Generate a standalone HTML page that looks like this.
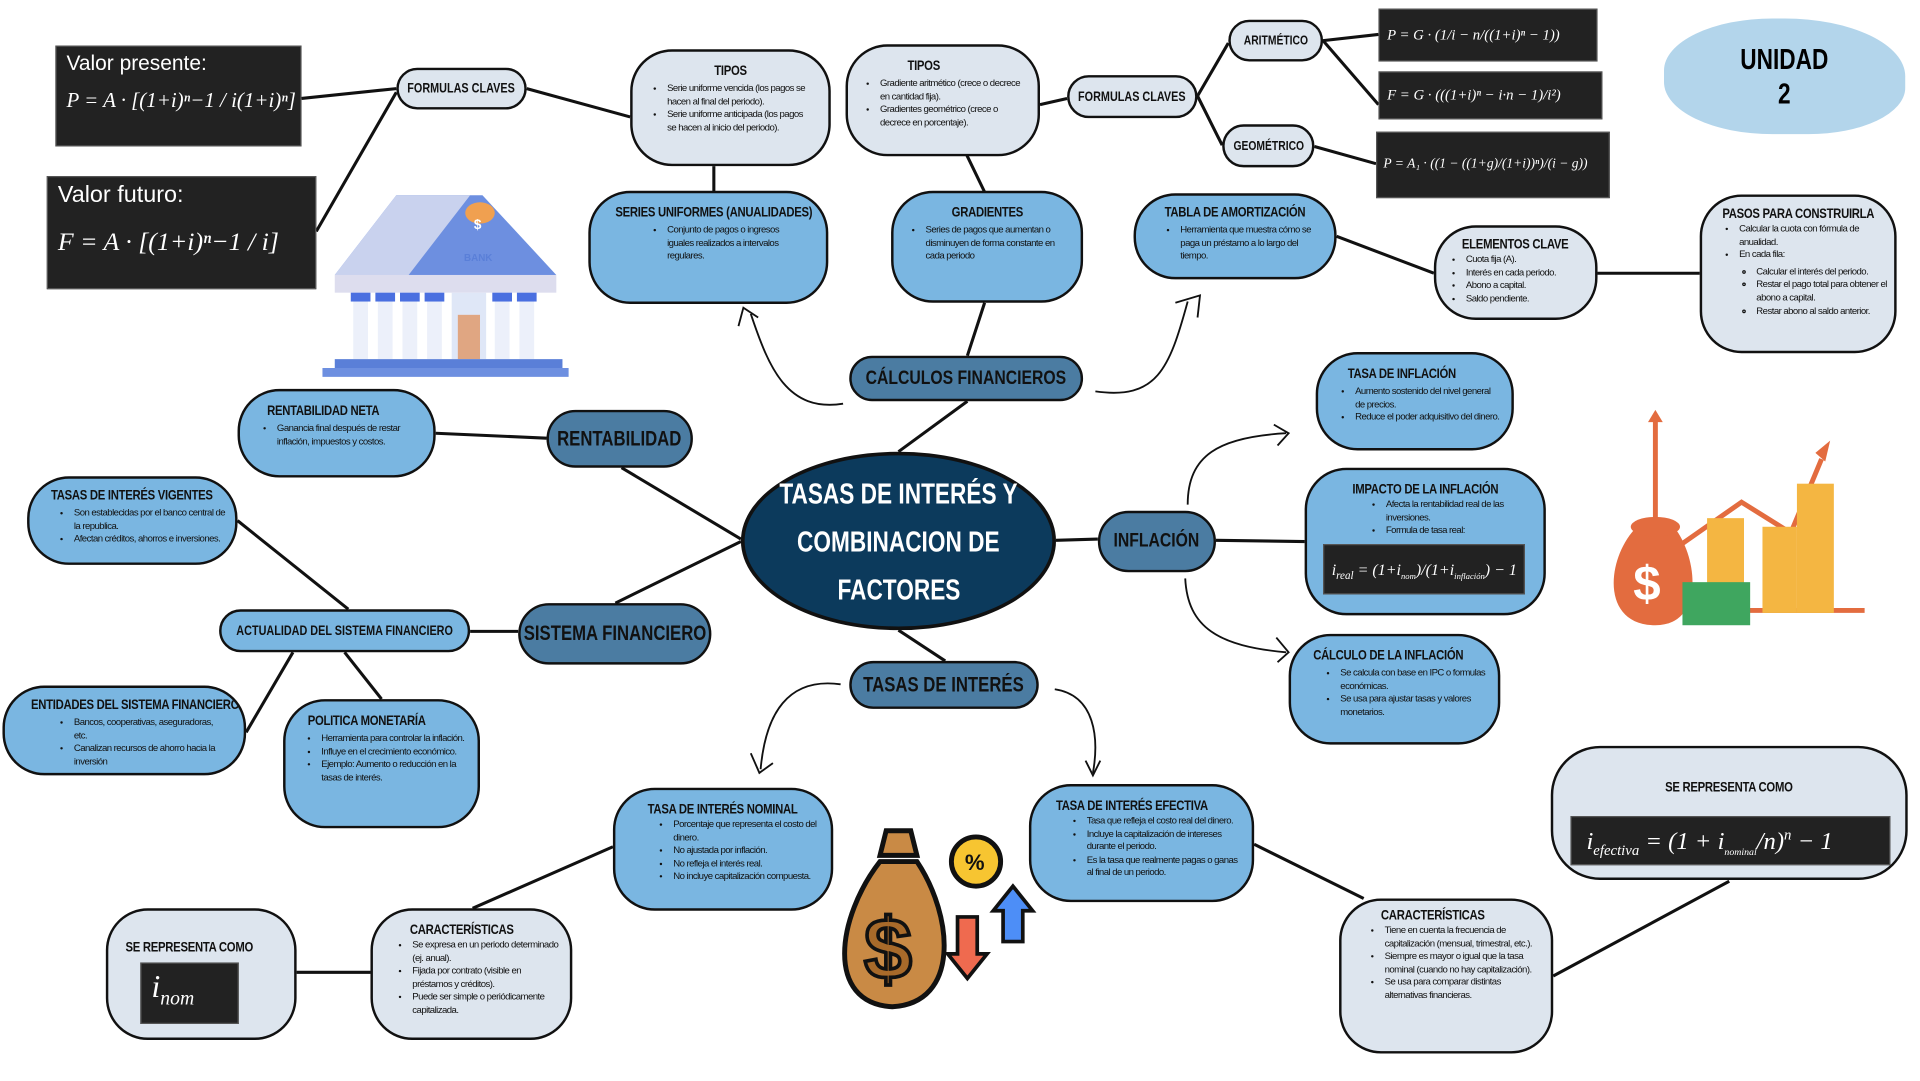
<!DOCTYPE html>
<html><head><meta charset="utf-8">
<style>
html,body{margin:0;padding:0;background:#fff;width:1920px;height:1080px;overflow:hidden}
#w{position:absolute;left:0;top:0;width:1560px;height:878px;transform:scale(1.23077);transform-origin:0 0;font-family:"Liberation Sans Narrow","Liberation Sans",sans-serif}
.n{position:absolute;box-sizing:border-box;border:2.5px solid #111;border-radius:34px;color:#111;overflow:hidden}
.l{background:#dde5ee}.m{background:#7ab6e1}.d{background:#4b7ca2}
.h{font-weight:bold;font-size:11.5px;text-align:center;margin-top:10px;white-space:nowrap;letter-spacing:-0.3px}
.h span,.s{display:inline-block;transform:scaleX(.8);transform-origin:center;white-space:nowrap}
.h.lf span{transform-origin:left}
.n ul{margin:3px 0 0 0;padding-left:26px;font-size:7.8px;line-height:10.6px;letter-spacing:-0.45px}
.n ul ul{padding-left:14px;list-style:circle}
.p{display:flex;align-items:center;justify-content:center;font-weight:bold;text-align:center;white-space:nowrap}
.f{position:absolute;background:#222;color:#fff;font-family:"Liberation Serif",serif;font-style:italic;box-sizing:border-box;border:1px solid #555;white-space:nowrap;overflow:hidden}
svg{position:absolute;left:0;top:0}
</style></head><body><div id="w">
<svg width="1560" height="878" viewBox="0 0 1560 878" fill="none" stroke="#111" stroke-width="2.5">
<line x1="245" y1="80" x2="322" y2="72"/>
<line x1="257" y1="188" x2="322" y2="75"/>
<line x1="428" y1="72" x2="512" y2="95"/>
<line x1="580" y1="135" x2="580" y2="156"/>
<line x1="785" y1="125" x2="800" y2="156"/>
<line x1="845" y1="85" x2="867" y2="80"/>
<line x1="973" y1="78" x2="998" y2="35"/>
<line x1="973" y1="78" x2="993" y2="118"/>
<line x1="1075" y1="33" x2="1120" y2="28"/>
<line x1="1075" y1="33" x2="1120" y2="85"/>
<line x1="1068" y1="119" x2="1118" y2="133"/>
<line x1="1086" y1="192" x2="1165" y2="222"/>
<line x1="1298" y1="222" x2="1381" y2="222"/>
<line x1="800" y1="246" x2="786" y2="289"/>
<line x1="786" y1="326" x2="730" y2="367"/>
<line x1="354" y1="352" x2="444" y2="356"/>
<line x1="505" y1="380" x2="602" y2="438"/>
<line x1="193" y1="423" x2="283" y2="495"/>
<line x1="500" y1="490" x2="602" y2="440"/>
<line x1="382" y1="513" x2="421" y2="513"/>
<line x1="238" y1="530" x2="200" y2="595"/>
<line x1="280" y1="530" x2="310" y2="568"/>
<line x1="858" y1="439" x2="892" y2="438"/>
<line x1="988" y1="439" x2="1060" y2="440"/>
<line x1="730" y1="512" x2="768" y2="537"/>
<line x1="498" y1="688" x2="384" y2="738"/>
<line x1="241" y1="790" x2="301" y2="790"/>
<line x1="1019" y1="686" x2="1108" y2="730"/>
<line x1="1262" y1="793" x2="1405" y2="716"/>
<g stroke-width="1.5">
<path d="M685 328 C640 335 625 300 610 255"/><path d="M600 265 L604 250 L616 258"/>
<path d="M890 318 C940 325 950 300 965 245"/><path d="M955 246 L975 240 L973 258"/>
<path d="M965 410 C965 370 990 355 1045 352"/><path d="M1035 345 L1047 352 L1038 362"/>
<path d="M963 470 C965 510 990 525 1045 530"/><path d="M1037 518 L1047 530 L1038 538"/>
<path d="M683 556 C640 550 622 580 618 625"/><path d="M610 612 L617 628 L628 620"/>
<path d="M857 560 C890 565 893 600 888 628"/><path d="M882 618 L888 630 L894 618"/>
</g>
</svg>

<div class="f" style="left:45px;top:37px;width:200px;height:82px;padding:4px 8px"><span style="font-style:normal;font-family:'Liberation Sans',sans-serif;font-size:17px">Valor presente:</span><div style="font-size:17px;margin-top:10px">P = A · [(1+i)ⁿ−1 / i(1+i)ⁿ]</div></div>
<div class="f" style="left:38px;top:143px;width:219px;height:92px;padding:4px 8px"><span style="font-style:normal;font-family:'Liberation Sans',sans-serif;font-size:19px">Valor futuro:</span><div style="font-size:21px;margin-top:14px">F = A · [(1+i)ⁿ−1 / i]</div></div>

<svg width="1560" height="878">
<g transform="translate(262,155) scale(1,0.72)">
<polygon points="10,95 60,5 130,5 190,95" fill="#6d8fe0"/><polygon points="10,95 60,5 120,5 70,95" fill="#c9d2ee"/>
<circle cx="128" cy="25" r="12" fill="#f0a050"/>
<rect x="10" y="95" width="180" height="20" fill="#dde"/>
<g fill="#ecf0fa"><rect x="25" y="115" width="12" height="75"/><rect x="45" y="115" width="12" height="75"/><rect x="65" y="115" width="12" height="75"/><rect x="85" y="115" width="12" height="75"/><rect x="140" y="115" width="12" height="75"/><rect x="160" y="115" width="12" height="75"/></g>
<g fill="#4a6fe0"><rect x="23" y="115" width="16" height="10"/><rect x="43" y="115" width="16" height="10"/><rect x="63" y="115" width="16" height="10"/><rect x="83" y="115" width="16" height="10"/><rect x="138" y="115" width="16" height="10"/><rect x="158" y="115" width="16" height="10"/></g>
<rect x="105" y="115" width="28" height="75" fill="#dfe7f7"/><rect x="110" y="140" width="18" height="50" fill="#e0a682"/>
<rect x="10" y="190" width="185" height="10" fill="#5a7fd8"/><rect x="0" y="200" width="200" height="10" fill="#6d8fe0"/>
</g>
<text x="385" y="186" font-size="11" fill="#fff" font-family="Liberation Sans" font-weight="bold">$</text>
<text x="377" y="212" font-size="8" fill="#5a7fd8" font-weight="bold" font-family="Liberation Sans">BANK</text>
<g transform="translate(680,665)">
<path d="M40 10 L60 10 L65 30 L35 30 Z" fill="#c98a45" stroke="#111" stroke-width="4"/>
<path d="M35 35 C0 80 -10 150 45 153 C100 150 95 80 65 35 Z" fill="#c98a45" stroke="#111" stroke-width="4"/>
<text x="22" y="130" font-size="70" fill="#a86a2a" stroke="#111" stroke-width="3" font-family="Liberation Sans" font-weight="bold">$</text>
<circle cx="113" cy="35" r="20" fill="#f7c531" stroke="#111" stroke-width="4"/><text x="104" y="42" font-size="18" fill="#111" font-family="Liberation Sans" font-weight="bold">%</text>
<path d="M110 70 L110 100 L102 100 L118 120 L134 100 L126 100 L126 70 Z" transform="translate(-12,10)" fill="#ef6a4f" stroke="#111" stroke-width="3"/>
<path d="M135 100 L135 75 L127 75 L143 55 L159 75 L151 75 L151 100 Z" fill="#4d8ef7" stroke="#111" stroke-width="3"/>
</g>
<g transform="translate(1305,333)">
<line x1="40" y1="90" x2="40" y2="5" stroke="#e36c3f" stroke-width="4"/><polygon points="34,10 40,0 46,10" fill="#e36c3f"/>
<polyline points="60,110 110,75 150,100 175,40" stroke="#e36c3f" stroke-width="4" fill="none"/><polygon points="170,35 182,25 178,42" fill="#e36c3f"/>
<line x1="60" y1="163" x2="210" y2="163" stroke="#e36c3f" stroke-width="4"/>
<rect x="82" y="88" width="30" height="77" fill="#f4b642"/><rect x="127" y="95" width="28" height="70" fill="#f4b642"/><rect x="155" y="60" width="30" height="105" fill="#f4b642"/>
<path d="M25 95 C0 120 -5 175 40 175 C80 175 75 120 55 95 Z" fill="#e36c3f"/><ellipse cx="40" cy="95" rx="20" ry="8" fill="#e36c3f"/>
<text x="22" y="155" font-size="40" fill="#fff" font-weight="bold" font-family="Liberation Sans">$</text>
<rect x="62" y="140" width="55" height="35" fill="#3fa65f"/>
</g>
</svg>

<div class="n p l" style="left:322px;top:55px;width:106px;height:34px;font-size:11px"><span class="s">FORMULAS CLAVES</span></div>
<div class="n l" style="left:512px;top:40px;width:163px;height:95px"><div class="h" style="margin-top:10px"><span>TIPOS</span></div><ul style="padding-left:28px;padding-right:14px"><li>Serie uniforme vencida (los pagos se hacen al final del periodo).</li><li>Serie uniforme anticipada (los pagos se hacen al inicio del periodo).</li></ul></div>
<div class="n m" style="left:478px;top:155px;width:195px;height:92px"><div class="h"><span>SERIES UNIFORMES (ANUALIDADES)</span></div><ul style="padding-left:62px;padding-right:18px"><li>Conjunto de pagos o ingresos iguales realizados a intervalos regulares.</li></ul></div>
<div class="n l" style="left:687px;top:36px;width:158px;height:91px"><div class="h" style="text-align:left;padding-left:45px"><span>TIPOS</span></div><ul style="padding-left:26px;padding-right:10px"><li>Gradiente aritmético (crece o decrece en cantidad fija).</li><li>Gradientes geométrico (crece o decrece en porcentaje).</li></ul></div>
<div class="n m" style="left:724px;top:155px;width:156px;height:91px"><div class="h"><span>GRADIENTES</span></div><ul style="padding-left:26px;padding-right:8px"><li>Series de pagos que aumentan o disminuyen de forma constante en cada periodo</li></ul></div>
<div class="n p l" style="left:867px;top:61px;width:106px;height:35px;font-size:11px"><span class="s">FORMULAS CLAVES</span></div>
<div class="n p l" style="left:998px;top:16px;width:77px;height:34px;font-size:10.5px"><span class="s">ARITMÉTICO</span></div>
<div class="n p l" style="left:993px;top:101px;width:75px;height:35px;font-size:10.5px"><span class="s">GEOMÉTRICO</span></div>
<div class="f" style="left:1120px;top:7px;width:178px;height:43px;font-size:12px;padding:13px 6px">P = G · (1/i − n/((1+i)ⁿ − 1))</div>
<div class="f" style="left:1120px;top:58px;width:182px;height:39px;font-size:12px;padding:11px 6px">F = G · (((1+i)ⁿ − i·n − 1)/i²)</div>
<div class="f" style="left:1118px;top:107px;width:190px;height:54px;font-size:11px;padding:19px 5px">P = A₁ · ((1 − ((1+g)/(1+i))ⁿ)/(i − g))</div>
<div style="position:absolute;left:1352px;top:15px;width:196px;height:94px;background:#b3d5eb;border-radius:45% 50% 40% 45%;display:flex;align-items:center;justify-content:center;text-align:center;font-weight:bold;font-size:23px;line-height:28px"><span class="s">UNIDAD<br>2</span></div>
<div class="n m" style="left:921px;top:157px;width:165px;height:70px"><div class="h" style="margin-top:8px"><span>TABLA DE AMORTIZACIÓN</span></div><ul style="padding-left:36px;padding-right:6px"><li>Herramienta que muestra cómo se paga un préstamo a lo largo del tiempo.</li></ul></div>
<div class="n l" style="left:1165px;top:183px;width:133px;height:77px"><div class="h" style="margin-top:8px"><span>ELEMENTOS CLAVE</span></div><ul style="padding-left:24px;margin-top:1px"><li>Cuota fija (A).</li><li>Interés en cada periodo.</li><li>Abono a capital.</li><li>Saldo pendiente.</li></ul></div>
<div class="n l" style="left:1381px;top:158px;width:160px;height:129px"><div class="h" style="margin-top:8px"><span>PASOS PARA CONSTRUIRLA</span></div><ul style="padding-left:30px;padding-right:4px;margin-top:1px"><li>Calcular la cuota con fórmula de anualidad.</li><li>En cada fila:<ul><li>Calcular el interés del periodo.</li><li>Restar el pago total para obtener el abono a capital.</li><li>Restar abono al saldo anterior.</li></ul></li></ul></div>
<div class="n p d" style="left:690px;top:289px;width:190px;height:37px;font-size:16px"><span class="s">CÁLCULOS FINANCIEROS</span></div>
<div class="n m" style="left:193px;top:316px;width:161px;height:72px"><div class="h lf" style="text-align:left;padding-left:22px"><span>RENTABILIDAD NETA</span></div><ul style="padding-left:30px;padding-right:14px"><li>Ganancia final después de restar inflación, impuestos y costos.</li></ul></div>
<div class="n p d" style="left:444px;top:333px;width:119px;height:47px;font-size:17px"><span class="s">RENTABILIDAD</span></div>
<div style="position:absolute;left:602px;top:367px;width:256px;height:145px;box-sizing:border-box;border:3px solid #111;border-radius:50%;background:#0c3a5c;color:#fff;font-weight:bold;font-size:23px;line-height:39px;text-align:center;padding-top:12px"><span class="s">TASAS DE INTERÉS Y</span><br><span class="s">COMBINACION DE</span><br><span class="s">FACTORES</span></div>
<div class="n m" style="left:22px;top:387px;width:171px;height:72px"><div class="h" style="margin-top:8px"><span>TASAS DE INTERÉS VIGENTES</span></div><ul style="padding-left:36px;padding-right:8px"><li>Son establecidas por el banco central de la republica.</li><li>Afectan créditos, ahorros e inversiones.</li></ul></div>
<div class="n p m" style="left:178px;top:495px;width:204px;height:35px;font-size:11px;border-radius:18px"><span class="s">ACTUALIDAD DEL SISTEMA FINANCIERO</span></div>
<div class="n p d" style="left:421px;top:490px;width:157px;height:50px;font-size:17px"><span class="s">SISTEMA FINANCIERO</span></div>
<div class="n m" style="left:2px;top:557px;width:198px;height:73px"><div class="h" style="margin-top:8px"><span>ENTIDADES DEL SISTEMA FINANCIERO</span></div><ul style="padding-left:56px;padding-right:20px"><li>Bancos, cooperativas, aseguradoras, etc.</li><li>Canalizan recursos de ahorro hacia la inversión</li></ul></div>
<div class="n m" style="left:230px;top:568px;width:160px;height:105px"><div class="h lf" style="text-align:left;padding-left:18px"><span>POLITICA MONETARÍA</span></div><ul style="padding-left:29px;padding-right:8px"><li>Herramienta para controlar la inflación.</li><li>Influye en el crecimiento económico.</li><li>Ejemplo: Aumento o reducción en la tasas de interés.</li></ul></div>
<div class="n p d" style="left:690px;top:537px;width:154px;height:39px;font-size:17px"><span class="s">TASAS DE INTERÉS</span></div>
<div class="n p d" style="left:892px;top:415px;width:96px;height:50px;font-size:16px"><span class="s">INFLACIÓN</span></div>
<div class="n m" style="left:1069px;top:286px;width:161px;height:80px"><div class="h lf" style="text-align:left;padding-left:24px"><span>TASA DE INFLACIÓN</span></div><ul style="padding-left:30px;padding-right:8px"><li>Aumento sostenido del nivel general de precios.</li><li>Reduce el poder adquisitivo del dinero.</li></ul></div>
<div class="n m" style="left:1060px;top:380px;width:196px;height:120px"><div class="h"><span>IMPACTO DE LA INFLACIÓN</span></div><ul style="padding-left:64px;padding-right:8px;margin-top:1px"><li>Afecta la rentabilidad real de las inversiones.</li><li>Formula de tasa real:</li></ul><div class="f" style="left:13px;top:60px;width:164px;height:41px;font-size:13px;padding:12px 6px">i<sub style="font-size:9px">real</sub> = (1+i<sub style="font-size:7px">nom</sub>)/(1+i<sub style="font-size:7px">inflación</sub>) − 1</div></div>
<div class="n m" style="left:1047px;top:515px;width:172px;height:90px"><div class="h lf" style="text-align:left;padding-left:18px"><span>CÁLCULO DE LA INFLACIÓN</span></div><ul style="padding-left:40px;padding-right:8px"><li>Se calcula con base en IPC o formulas económicas.</li><li>Se usa para ajustar tasas y valores monetarios.</li></ul></div>
<div class="n m" style="left:498px;top:640px;width:179px;height:100px"><div class="h"><span>TASA DE INTERÉS NOMINAL</span></div><ul style="padding-left:47px;padding-right:6px;margin-top:1px"><li>Porcentaje que representa el costo del dinero.</li><li>No ajustada por inflación.</li><li>No refleja el interés real.</li><li>No incluye capitalización compuesta.</li></ul></div>
<div class="n m" style="left:836px;top:637px;width:183px;height:96px"><div class="h lf" style="text-align:left;padding-left:20px"><span>TASA DE INTERÉS EFECTIVA</span></div><ul style="padding-left:45px;padding-right:6px;margin-top:1px"><li>Tasa que refleja el costo real del dinero.</li><li>Incluye la capitalización de intereses durante el periodo.</li><li>Es la tasa que realmente pagas o ganas al final de un periodo.</li></ul></div>
<div class="n l" style="left:86px;top:738px;width:155px;height:107px"><div class="h lf" style="margin-top:24px;text-align:left;padding-left:14px"><span>SE REPRESENTA COMO</span></div><div class="f" style="left:26px;top:42px;width:80px;height:50px;font-size:26px;padding:4px 8px">i<sub style="font-size:16px">nom</sub></div></div>
<div class="n l" style="left:301px;top:738px;width:164px;height:107px"><div class="h lf" style="margin-top:10px;text-align:left;padding-left:30px"><span>CARACTERÍSTICAS</span></div><ul style="padding-left:32px;padding-right:6px;margin-top:1px"><li>Se expresa en un periodo determinado (ej. anual).</li><li>Fijada por contrato (visible en préstamos y créditos).</li><li>Puede ser simple o periódicamente capitalizada.</li></ul></div>
<div class="n l" style="left:1088px;top:730px;width:174px;height:126px"><div class="h lf" style="margin-top:6px;text-align:left;padding-left:32px"><span>CARACTERÍSTICAS</span></div><ul style="padding-left:35px;padding-right:8px;margin-top:1px"><li>Tiene en cuenta la frecuencia de capitalización (mensual, trimestral, etc.).</li><li>Siempre es mayor o igual que la tasa nominal (cuando no hay capitalización).</li><li>Se usa para comparar distintas alternativas financieras.</li></ul></div>
<div class="n l" style="left:1260px;top:606px;width:290px;height:109px;border-radius:40px"><div class="h" style="margin-top:26px"><span>SE REPRESENTA COMO</span></div><div class="f" style="left:14px;top:55px;width:260px;height:40px;font-size:20px;padding:7px 12px">i<sub style="font-size:12px">efectiva</sub> = (1 + i<sub style="font-size:8px">nominal</sub>/n)<sup style="font-size:12px">n</sup> − 1</div></div>
</div></body></html>
